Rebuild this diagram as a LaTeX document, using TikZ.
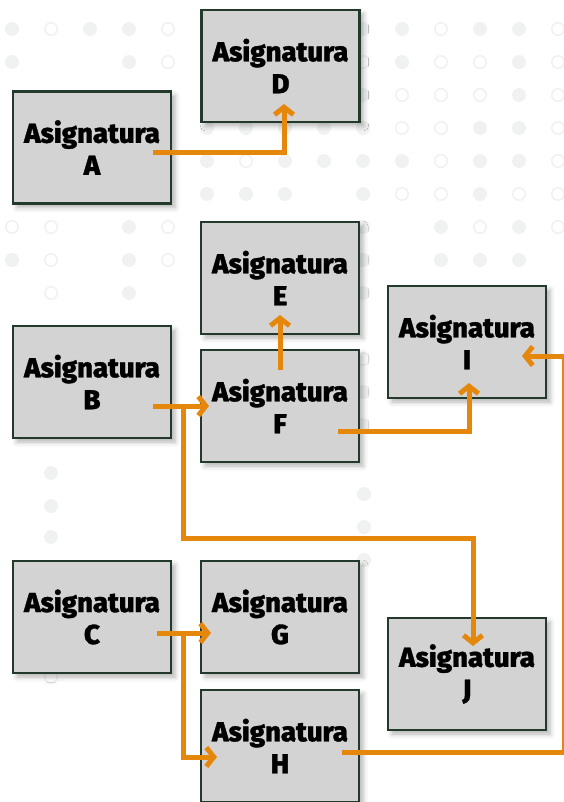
\documentclass[tikz,border=0pt]{standalone}
\usepackage{fontspec}
\setmainfont{Fira Sans}[BoldFont={Fira Sans ExtraBold},BoldFeatures={FakeBold=1.2}]
\usetikzlibrary{arrows.meta,shadows.blur,calc}
\definecolor{boxfill}{HTML}{D3D3D3}
\definecolor{boxline}{HTML}{22392B}
\definecolor{conn}{HTML}{E5870A}
\definecolor{dotc}{HTML}{F0F2F2}
\tikzset{
  subj/.style={draw=boxline, line width=2.5pt, fill=boxfill,
    minimum width=158pt, minimum height=112pt, inner sep=0pt,
    align=center, font=\fontsize{27.5}{32}\selectfont\bfseries,
    blur shadow={shadow xshift=4pt, shadow yshift=-4pt, shadow blur radius=5pt, shadow opacity=30}},
  link/.style={draw=conn, line width=5pt},
  linkarrow/.style={link, -{Straight Barb[length=7.5pt,width=19pt]}},
  fdot/.style={fill=dotc, draw=none},
  rdot/.style={draw=dotc, line width=1.6pt, fill=none}
}
\begin{document}
\begin{tikzpicture}[x=1pt,y=-1pt]
\useasboundingbox (0,0) rectangle (564,802);
% background dots: entries col/row/type (1 filled, 2 ring)
\foreach \c/\r/\t in {
 0/0/1,1/0/2,2/0/1,3/0/1,4/0/2,9/0/1,10/0/1,11/0/2,12/0/1,13/0/1,14/0/2,
 0/1/1,3/1/1,4/1/2,9/1/2,10/1/1,11/1/2,12/1/2,13/1/1,14/1/2,
 9/2/1,10/2/2,11/2/2,12/2/2,13/2/1,14/2/2,
 5/3/1,6/3/1,7/3/1,8/3/1,9/3/1,10/3/2,11/3/2,12/3/1,13/3/1,14/3/2,
 5/4/1,6/4/2,7/4/1,8/4/1,9/4/1,10/4/1,11/4/2,12/4/1,13/4/1,14/4/2,
 5/5/1,6/5/1,7/5/1,9/5/1,10/5/2,11/5/2,12/5/1,13/5/2,14/5/2,
 0/6/2,1/6/2,3/6/1,4/6/2,9/6/1,11/6/1,12/6/2,13/6/1,14/6/2,
 0/7/1,1/7/2,3/7/1,4/7/2,9/7/1,11/7/1,12/7/1,13/7/1,
 1/8/2,3/8/1,9/8/1,
 9/10/2,9/11/1,9/12/1}
{
  \ifnum\t=1
    \fill[fdot] (12+39*\c,29+33*\r) circle (7);
  \else
    \draw[rdot] (12+39*\c,29+33*\r) circle (6.2);
  \fi
}
\foreach \x/\y in {51/473,51/506,51/537,364/494,364/527,364/560}
  \fill[fdot] (\x,\y) circle (7);
\draw[rdot] (51,677) circle (6.2);

% boxes
\node[subj] (A) at (92,147.5) {Asignatura\\A};
\node[subj] (D) at (280.5,66) {Asignatura\\D};
\node[subj] (E) at (280,278) {Asignatura\\E};
\node[subj] (B) at (92,382) {Asignatura\\B};
\node[subj] (F) at (280,406) {Asignatura\\F};
\node[subj] (I) at (467,342) {Asignatura\\I};
\node[subj] (C) at (92,617) {Asignatura\\C};
\node[subj] (G) at (280,617) {Asignatura\\G};
\node[subj] (J) at (467,674) {Asignatura\\J};
\node[subj] (H) at (280,746) {Asignatura\\H};

% connector points
\coordinate (sA) at (153,153);
\coordinate (tD) at (284,104);
\coordinate (sB) at (153,406);
\coordinate (tF) at (209,406);
\coordinate (jB) at (183,406);
\coordinate (kB) at (183,538);
\coordinate (tJ) at (473,646);
\coordinate (sFE) at (280,370);
\coordinate (tE) at (280,315);
\coordinate (sFI) at (338,431);
\coordinate (tI) at (469,383);
\coordinate (sH) at (342,752);
\coordinate (rH) at (564.5,752);
\coordinate (rI) at (564.5,356);
\coordinate (tI2) at (522,356);
\coordinate (sC) at (157,633);
\coordinate (tG) at (211,633);
\coordinate (jC) at (183,633);
\coordinate (tH) at (217,757);

% connectors
\draw[linkarrow] (sA) -| (tD);
\draw[linkarrow] (sB) -- (tF);
\draw[linkarrow] (jB) -- (kB) -| (tJ);
\draw[linkarrow] (sFE) -- (tE);
\draw[linkarrow] (sFI) -| (tI);
\draw[linkarrow] (sH) -- (rH) -- (rI) -- (tI2);
\draw[linkarrow] (sC) -- (tG);
\draw[linkarrow] (jC) |- (tH);
\end{tikzpicture}
\end{document}
